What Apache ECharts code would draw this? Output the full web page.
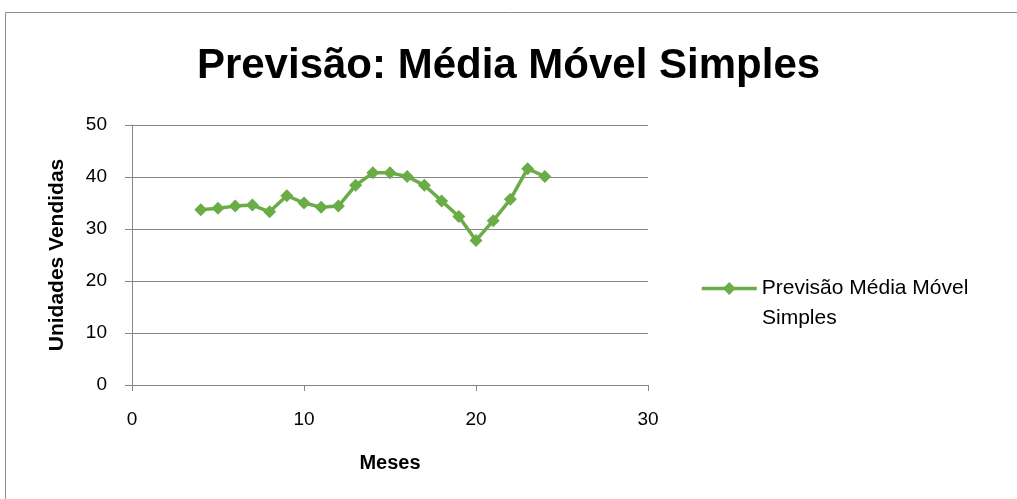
<!DOCTYPE html>
<html>
<head>
<meta charset="utf-8">
<script src="https://cdn.jsdelivr.net/npm/echarts@6/dist/echarts.min.js"></script>
<style>
  html, body { margin: 0; padding: 0; background: #fff; }
  #chart { width: 1017px; height: 499px; }
</style>
</head>
<body>
<div id="chart"></div>
<script>
// meses e previsão (média móvel simples)
const meses = [4, 5, 6, 7, 8, 9, 10, 11, 12, 13, 14, 15, 16, 17, 18, 19, 20, 21, 22, 23, 24];
const previsao = [33.7, 34.0, 34.4, 34.6, 33.3, 36.4, 35.0, 34.2, 34.4, 38.4, 40.8, 40.8, 40.1, 38.4, 35.4, 32.4, 27.8, 31.6, 35.7, 41.6, 40.1];
const serieNome = 'Previsão Média Móvel';

const chart = echarts.init(document.getElementById('chart'));
const fonte = 'Liberation Sans, Arial, sans-serif';

const option = {
  backgroundColor: '#fff',
  animation: false,
  title: {
    text: 'Previsão: Média Móvel Simples',
    left: 'center',
    top: 40,
    textStyle: { fontFamily: fonte, fontSize: 42, fontWeight: 'bold', color: '#000' }
  },
  graphic: [{
    type: 'rect',
    shape: { x: 5.5, y: 12.5, width: 1030, height: 520 },
    style: { fill: 'none', stroke: '#8c8c8c', lineWidth: 1 },
    silent: true
  }, {
    // segunda linha do texto da legenda
    type: 'text',
    left: 762,
    top: 308,
    style: { text: 'Simples', font: '21px ' + fonte, fill: '#000' },
    silent: true
  }],
  legend: {
    left: 695,
    top: 273,
    itemWidth: 55,
    itemHeight: 16,
    itemGap: 5,
    lineStyle: { width: 3.5 },
    textStyle: { fontFamily: fonte, fontSize: 21, color: '#000' },
    data: [serieNome]
  },
  grid: { left: 132, right: 369, top: 125, bottom: 114 },
  xAxis: {
    type: 'value',
    min: 0, max: 30, interval: 10,
    name: 'Meses',
    nameLocation: 'middle',
    nameGap: 68,
    nameTextStyle: { fontFamily: fonte, fontSize: 20, fontWeight: 'bold', color: '#000' },
    axisLine: { show: true, lineStyle: { color: '#868686' } },
    axisTick: { show: true, length: 6, lineStyle: { color: '#868686' } },
    axisLabel: { fontFamily: fonte, fontSize: 19, color: '#000', margin: 25 },
    splitLine: { show: false }
  },
  yAxis: {
    type: 'value',
    min: 0, max: 50, interval: 10,
    name: 'Unidades Vendidas',
    nameLocation: 'middle',
    nameGap: 64,
    nameTextStyle: { fontFamily: fonte, fontSize: 21, fontWeight: 'bold', color: '#000' },
    axisLine: { show: true, lineStyle: { color: '#868686' } },
    axisTick: { show: true, length: 7, lineStyle: { color: '#868686' } },
    axisLabel: { fontFamily: fonte, fontSize: 19, color: '#000', margin: 25 },
    splitLine: { lineStyle: { color: '#868686', width: 1 } }
  },
  series: [{
    name: serieNome,
    type: 'line',
    data: meses.map((m, i) => [m, previsao[i]]),
    symbol: 'diamond',
    symbolSize: 13,
    lineStyle: { color: '#6aac46', width: 3.5 },
    itemStyle: { color: '#6aac46' }
  }]
};
chart.setOption(option);
</script>
</body>
</html>
